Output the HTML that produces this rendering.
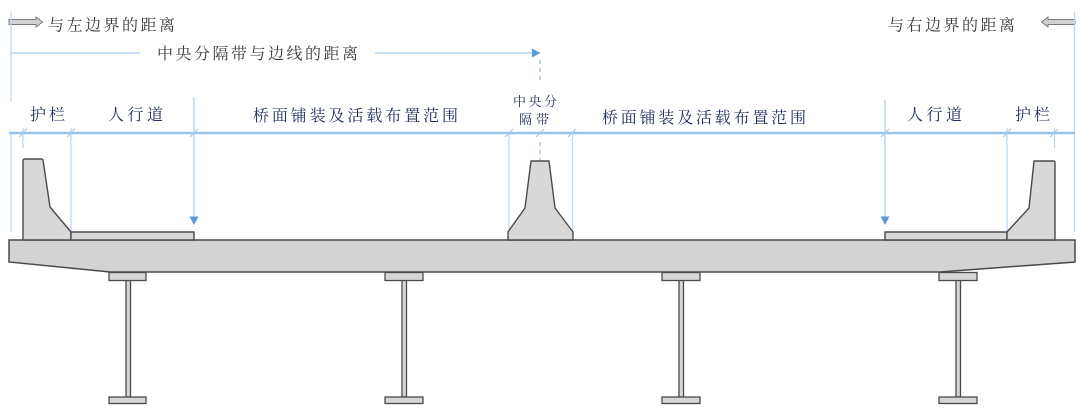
<!DOCTYPE html>
<html>
<head>
<meta charset="utf-8">
<style>
html,body{margin:0;padding:0;background:#fff;}
svg{display:block;}
.t{font-family:"Liberation Serif","Noto Serif CJK SC",serif;font-size:16px;}
.g{fill:#3a3a3a;}
.n{fill:#1f2d5e;}
</style>
</head>
<body>
<svg width="1083" height="410" viewBox="0 0 1083 410" xmlns="http://www.w3.org/2000/svg">
  <!-- top hollow arrows -->
  <polygon points="9,19.5 36,19.5 36,17 42.5,22 36,27 36,24.5 9,24.5" fill="#d2d2d2" stroke="#7a7a7a" stroke-width="1"/>
  <polygon points="1075,19.5 1048,19.5 1048,17 1041.5,22 1048,27 1048,24.5 1075,24.5" fill="#d2d2d2" stroke="#7a7a7a" stroke-width="1"/>

  <text class="t g" x="48" y="30.5" textLength="127" lengthAdjust="spacing">与左边界的距离</text>
  <text class="t g" x="888" y="30.5" textLength="127" lengthAdjust="spacing">与右边界的距离</text>
  <text class="t g" x="157" y="59" textLength="201" lengthAdjust="spacing">中央分隔带与边线的距离</text>

  <!-- thin blue vertical lines -->
  <g stroke="#bcd6ef" stroke-width="1.2" fill="none">
    <line x1="11" y1="12" x2="11" y2="102"/>
    <line x1="11" y1="133" x2="11" y2="232"/>
    <line x1="1074.5" y1="12" x2="1074.5" y2="232"/>
    <line x1="23" y1="128" x2="23" y2="148"/>
    <line x1="71" y1="128" x2="71" y2="232"/>
    <line x1="509" y1="133" x2="509" y2="232"/>
    <line x1="572.5" y1="133" x2="572.5" y2="232"/>
    <line x1="1007" y1="128" x2="1007" y2="232"/>
    <line x1="1054.5" y1="128" x2="1054.5" y2="148"/>
  </g>
  <!-- arrow lines -->
  <g stroke="#a9c9ea" stroke-width="1.2" fill="none">
    <line x1="11" y1="53" x2="140" y2="53"/>
    <line x1="375" y1="53" x2="533" y2="53"/>
    <line x1="194" y1="97" x2="194" y2="218"/>
    <line x1="885" y1="100" x2="885" y2="218"/>
  </g>
  <g fill="#5b9bd5">
    <polygon points="532,48.5 540.5,53 532,57.5"/>
    <polygon points="189.5,216.5 198.5,216.5 194,225"/>
    <polygon points="880.5,216.5 889.5,216.5 885,225"/>
  </g>
  <!-- dashed center -->
  <g stroke="#9fc0e4" stroke-width="1.3" stroke-dasharray="4,4" fill="none">
    <line x1="540" y1="60" x2="540" y2="84"/>
    <line x1="540" y1="142" x2="540" y2="161"/>
  </g>

  <!-- main horizontal dimension line -->
  <line x1="9" y1="133" x2="1075" y2="133" stroke="#9cc3ea" stroke-width="2.5"/>
  <!-- slash ticks -->
  <g stroke="#a9c9ea" stroke-width="1.2">
    <line x1="19" y1="137" x2="27" y2="129"/>
    <line x1="67" y1="137" x2="75" y2="129"/>
    <line x1="190" y1="137" x2="198" y2="129"/>
    <line x1="505" y1="137" x2="513" y2="129"/>
    <line x1="536" y1="137" x2="544" y2="129"/>
    <line x1="568" y1="137" x2="576" y2="129"/>
    <line x1="881" y1="137" x2="889" y2="129"/>
    <line x1="1003" y1="137" x2="1011" y2="129"/>
    <line x1="1050" y1="137" x2="1058" y2="129"/>
  </g>

  <!-- navy labels -->
  <text class="t n" x="30" y="120" textLength="35" lengthAdjust="spacing">护栏</text>
  <text class="t n" x="108" y="120" textLength="55" lengthAdjust="spacing">人行道</text>
  <text class="t n" x="253" y="121" textLength="205" lengthAdjust="spacing">桥面铺装及活载布置范围</text>
  <text class="t n" x="513" y="106" style="font-size:13px" textLength="44" lengthAdjust="spacing">中央分</text>
  <text class="t n" x="519" y="124" style="font-size:13px" textLength="30" lengthAdjust="spacing">隔带</text>
  <text class="t n" x="602" y="123" textLength="204" lengthAdjust="spacing">桥面铺装及活载布置范围</text>
  <text class="t n" x="907" y="120" textLength="55" lengthAdjust="spacing">人行道</text>
  <text class="t n" x="1015" y="120" textLength="35" lengthAdjust="spacing">护栏</text>

  <!-- girders -->
  <g fill="#d6d6d6" stroke="#4a4a4a" stroke-width="1.3">
    <g>
      <rect x="126" y="280" width="4.5" height="117"/>
      <rect x="109" y="272.5" width="37" height="8"/>
      <rect x="109" y="397" width="37" height="6.5"/>
    </g>
    <g>
      <rect x="402" y="280" width="4.5" height="117"/>
      <rect x="385" y="272.5" width="38" height="8"/>
      <rect x="385" y="397" width="38" height="6.5"/>
    </g>
    <g>
      <rect x="679" y="280" width="4.5" height="117"/>
      <rect x="662" y="272.5" width="38" height="8"/>
      <rect x="662" y="397" width="38" height="6.5"/>
    </g>
    <g>
      <rect x="956" y="280" width="4.5" height="117"/>
      <rect x="939" y="272.5" width="38" height="8"/>
      <rect x="939" y="397" width="38" height="6.5"/>
    </g>
  </g>

  <!-- deck -->
  <polygon points="9,240 1075,240 1075,262 940,272 110,272 9,262" fill="#d3d3d3" stroke="#4a4a4a" stroke-width="1.5"/>

  <!-- barriers & sidewalks -->
  <g fill="#d8d8d8" stroke="#4a4a4a" stroke-width="1.4" stroke-linejoin="round">
    <polygon points="23,240 23,160 24,159 42,159 43,160 50,207 71,232 71,240"/>
    <rect x="71" y="232" width="123" height="8"/>
    <polygon points="508,240 508,232 525,208 531,161 549,161 555,208 573,232 573,240"/>
    <rect x="885" y="232" width="122" height="8"/>
    <polygon points="1007,240 1007,232 1029,208 1034,161 1054,161 1055,162 1055,240"/>
  </g>
</svg>
</body>
</html>
